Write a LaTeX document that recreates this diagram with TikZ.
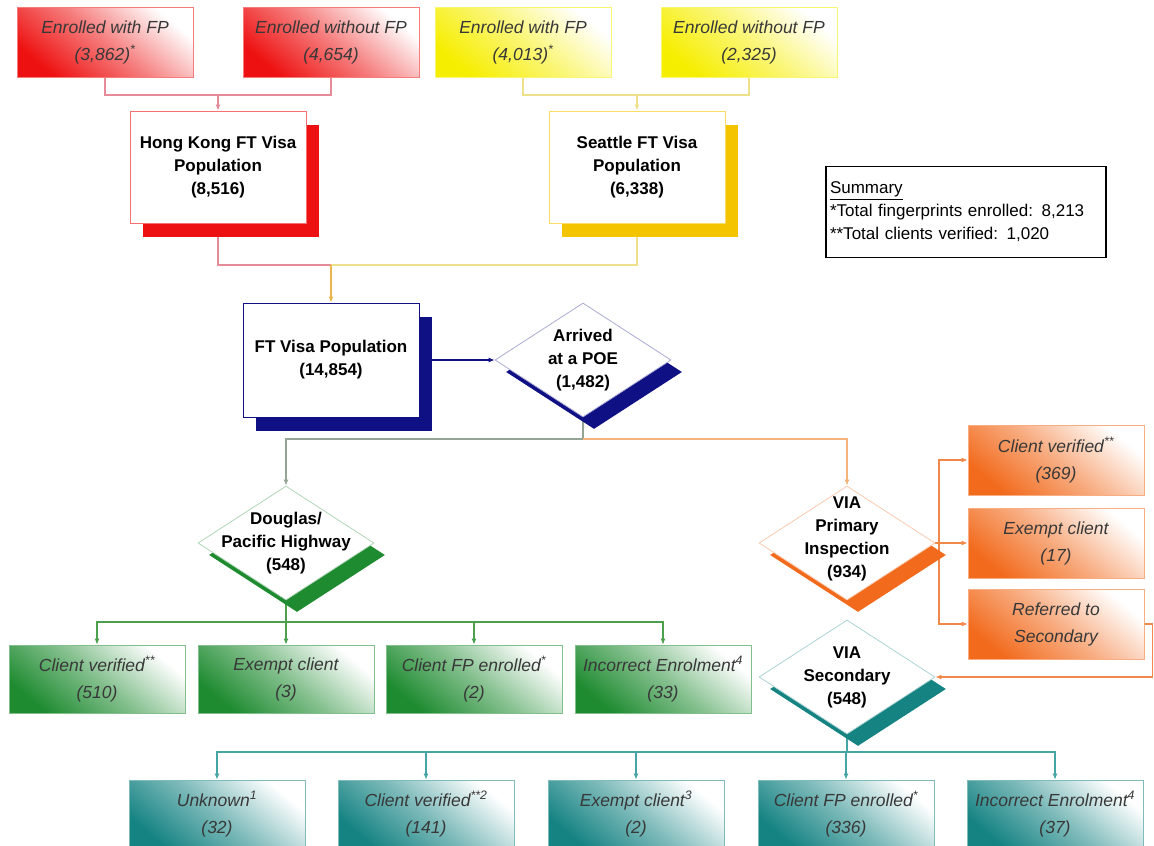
\documentclass[tikz,border=0pt]{standalone}
\usepackage{fontspec}
\setmainfont{Liberation Sans}
\usetikzlibrary{calc,shapes.geometric,shadows,backgrounds,arrows.meta}

\definecolor{hkred}{HTML}{EE1111}
\definecolor{seayellow}{HTML}{F6EE00}
\definecolor{seagold}{HTML}{F5C400}
\definecolor{ftnavy}{HTML}{101085}
\definecolor{dpgreen}{HTML}{1E8B30}
\definecolor{viaorange}{HTML}{F26A1C}
\definecolor{secteal}{HTML}{168383}
\definecolor{labelgray}{HTML}{383838}
\definecolor{hkline}{HTML}{E58C98}
\definecolor{sealine}{HTML}{EFE08C}
\definecolor{ftline}{HTML}{E9B54C}
\definecolor{poegray}{HTML}{95A595}
\definecolor{poeorange}{HTML}{F4B27C}
\definecolor{dpline}{HTML}{4CA04C}
\definecolor{vpline}{HTML}{F0884A}
\definecolor{vsline}{HTML}{45A5A5}

\tikzset{
  enrol/.style={draw=#1!55, line width=0.8pt, top color=white, bottom color=#1, middle color=#1!55,
    shading angle=-40, minimum width=176pt, minimum height=70pt, inner sep=0pt, align=center,
    text=labelgray, font=\fontsize{17.5}{27}\selectfont\itshape},
  popbox/.style={draw=#1!60, line width=0.8pt, fill=white, minimum width=176pt, minimum height=112pt,
    align=center, font=\fontsize{17}{23}\selectfont\bfseries,
    general shadow={fill=#1, shadow xshift=13pt, shadow yshift=-14pt}},
  choice/.style={diamond, draw=#1!35, line width=0.8pt, fill=white, minimum width=176pt,
    minimum height=114pt, inner sep=0pt,
    general shadow={fill=#1, shadow xshift=11pt, shadow yshift=-12pt}},
  choicetext/.style={align=center, font=\fontsize{17}{23}\selectfont\bfseries},
  link/.style={line width=1.1pt},
}

\begin{document}
\begin{tikzpicture}[x=1pt,y=-1pt,>={Latex[length=6pt,width=5pt]}]
            \useasboundingbox (0,0) rectangle (1154,846);

            \node[enrol=hkred] (r_1) at (105,42) {Enrolled with FP\\(3,862)\textsuperscript{*}};
            \node[enrol=hkred] (r_2) at (331,42) {Enrolled without FP\\(4,654)};
            \node[enrol=seayellow] (y_1) at (523,42) {Enrolled with FP\\(4,013)\textsuperscript{*}};
            \node[enrol=seayellow] (y_2) at (749,42) {Enrolled without FP\\(2,325)};

            \node[popbox=hkred] (hk) at (218,167) {Hong Kong FT Visa\\Population\\(8,516)};
            \node[popbox=seagold] (sea) at (637,167) {Seattle FT Visa\\Population\\(6,338)};
            \node[popbox=ftnavy, draw=ftnavy, minimum height=114pt] (ft) at (331,360) {FT Visa Population\\(14,854)};

            \node[draw, line width=1.8pt, text width=272pt, minimum height=91pt, align=left, inner sep=4pt,
                  font=\fontsize{17}{23}\selectfont] (sum) at (966,212)
                  {\underline{Summary}\\{}*Total fingerprints enrolled: 8,213\\{}**Total clients verified: 1,020};

            \node[choice=ftnavy] (poe) at (583,360) {};
            \node[choicetext] (poe_t) at (poe) {Arrived\\at a POE\\(1,482)};
            \node[choice=dpgreen] (dp) at (286,543) {};
            \node[choicetext] (dp_t) at (dp) {Douglas/\\Pacific Highway\\(548)};
            \node[choice=viaorange] (vp) at (847,543) {};
            \node[choicetext] (vp_t) at (847,539) {VIA\\Primary\\Inspection\\(934)};
            \node[choice=secteal] (vs) at (847,677) {};
            \node[choicetext] (vs_t) at (vs) {VIA\\Secondary\\(548)};

            \node[enrol=dpgreen, minimum height=68pt] (g_1) at (97,679) {Client verified\textsuperscript{**}\\(510)};
            \node[enrol=dpgreen, minimum height=68pt] (g_2) at (286,679) {Exempt client\\(3)};
            \node[enrol=dpgreen, minimum height=68pt] (g_3) at (474,679) {Client FP enrolled\textsuperscript{*}\\(2)};
            \node[enrol=dpgreen, minimum height=68pt] (g_4) at (663,679) {Incorrect Enrolment\textsuperscript{4}\\(33)};

            \node[enrol=viaorange] (o_1) at (1056,460) {Client verified\textsuperscript{**}\\(369)};
            \node[enrol=viaorange] (o_2) at (1056,543) {Exempt client\\(17)};
            \node[enrol=viaorange] (o_3) at (1056,624) {Referred to\\Secondary};

            \node[enrol=secteal, minimum height=68pt] (t_1) at (217,814) {Unknown\textsuperscript{1}\\(32)};
            \node[enrol=secteal, minimum height=68pt] (t_2) at (426,814) {Client verified\textsuperscript{**2}\\(141)};
            \node[enrol=secteal, minimum height=68pt] (t_3) at (636,814) {Exempt client\textsuperscript{3}\\(2)};
            \node[enrol=secteal, minimum height=68pt] (t_4) at (846,814) {Client FP enrolled\textsuperscript{*}\\(336)};
            \node[enrol=secteal, minimum height=68pt] (t_5) at (1055,814) {Incorrect Enrolment\textsuperscript{4}\\(37)};

            \begin{scope}[on background layer]
            \coordinate (hk_in) at (218,95);
            \coordinate (sea_in) at (637,95);
            \coordinate (ft_in) at (331,265);
            \coordinate (poe_out) at (583,439);
            \coordinate (dp_out) at (286,622);
            \coordinate (vp_out) at (939,543);
            \coordinate (vs_out) at (847,752);

            \tikzset{link/.append style={hkline}};
            \draw[link] (r_1.south) |- (hk_in) -| (r_2.south);
            \draw[link,->] (hk_in) -- (hk.north);
            \draw[link] (hk.south) |- (ft_in);

            \tikzset{link/.append style={sealine}};
            \draw[link] (y_1.south) |- (sea_in) -| (y_2.south);
            \draw[link,->] (sea_in) -- (sea.north);
            \draw[link] (sea.south) |- (ft_in);

            \tikzset{link/.append style={ftline}};
            \draw[link,->] (ft_in) -- (ft.north);

            \tikzset{link/.append style={ftnavy}};
            \draw[link,->] (ft.east) -- (poe.west);

            \tikzset{link/.append style={poegray}};
            \draw[link,->] (poe.south) -- (poe_out) -| (dp.north);
            \tikzset{link/.append style={poeorange}};
            \draw[link,->] (poe_out) -| (vp.north);

            \tikzset{link/.append style={dpline}};
            \foreach \i in {1,...,4}
              \draw[link,->] (dp.south) -- (dp_out) -| (g_\i.north);

            \tikzset{link/.append style={vpline}};
            \draw[link,->] (vp.east) -- (o_2.west);
            \draw[link,->] (vp_out) |- (o_1.west);
            \draw[link,->] (vp_out) |- (o_3.west);
            \draw[link,->] (o_3.east) -- ++(8,0) |- (vs.east);

            \tikzset{link/.append style={vsline}};
            \foreach \i in {1,...,5}
              \draw[link,->] (vs.south) -- (vs_out) -| (t_\i.north);
            \end{scope}
\end{tikzpicture}
\end{document}
